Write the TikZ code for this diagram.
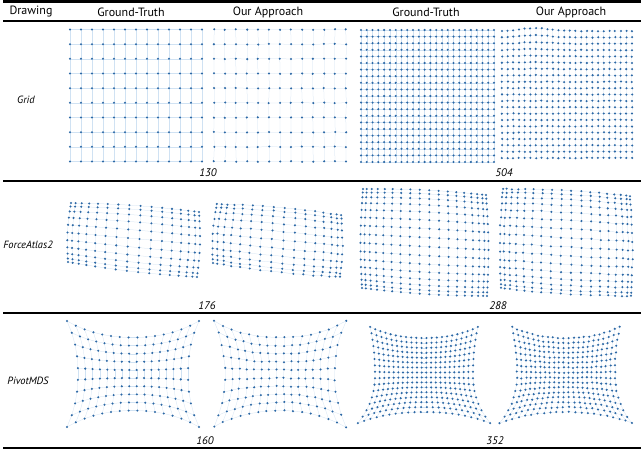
\documentclass[tikz,border=0pt]{standalone}
\usepackage{fontspec}
\setmainfont{PT Sans}
\definecolor{dotc}{RGB}{44,104,165}
\definecolor{edgec}{RGB}{208,226,243}
\tikzset{
  edge/.style={draw=edgec,line width=0.25pt},
  dotn/.style={fill=dotc},
  rule/.style={line width=2pt,black},
  head/.style={font=\fontsize{12}{14}\selectfont,inner sep=0pt},
  rowlab/.style={font=\fontsize{10.5}{12}\selectfont\itshape,inner sep=0pt},
  numlab/.style={font=\fontsize{11}{13}\selectfont\itshape,inner sep=0pt}
}
% regular grid coordinates with optional noise and a top bump
\newcommand\mkgrid[9]{% name, N-1, M-1, x0, width, y0, height, noise, bump
  \foreach \i in {0,...,#2}{\foreach \j in {0,...,#3}{
    \pgfmathsetmacro\px{#4+#5*\i/#2+#8*rand}
    \pgfmathsetmacro\py{#6+#7*\j/#3+#8*rand-#9*exp(-((\i/#2-0.25)/0.15)^2)*(1-\j/#3)^6}
    \coordinate (#1-\i-\j) at (\px,\py);
  }}}
% ForceAtlas2-like: warped quadrilateral
\newcommand\mkfa[4]{% name, N-1, M-1, noise
  \foreach \i in {0,...,#2}{\foreach \j in {0,...,#3}{
    \pgfmathsetmacro\su{0.45*\i/#2+0.55*(0.5-0.5*cos(180*\i/#2))}
    \pgfmathsetmacro\sv{0.45*\j/#3+0.55*(0.5-0.5*cos(180*\j/#3))}
    \pgfmathsetmacro\px{(1-\sv)*((1-\su)*\TLx+\su*\TRx)+\sv*((1-\su)*\BLx+\su*\BRx)-2*(1-2*\su)*sin(180*\sv)+#4*rand}
    \pgfmathsetmacro\py{(1-\sv)*((1-\su)*\TLy+\su*\TRy)+\sv*((1-\su)*\BLy+\su*\BRy)-2*(1-2*\sv)*sin(180*\su)+#4*rand}
    \coordinate (#1-\i-\j) at (\px,\py);
  }}}
% PivotMDS-like: pincushion
\newcommand\mkpm[4]{% name, N-1, M-1, noise
  \foreach \i in {0,...,#2}{\foreach \j in {0,...,#3}{
    \pgfmathsetmacro\uu{2*\i/#2-1}
    \pgfmathsetmacro\vv{2*\j/#3-1}
    \pgfmathsetmacro\px{\cx+\aa*\uu*(1+((\vv<0)*\kt+(\vv>=0)*\kb)*(\vv*\vv)*(0.7+0.3*abs(\vv)))+#4*rand}
    \pgfmathsetmacro\py{\cy+\bb*\vv*(1+\ky*(\uu*\uu)*(0.7+0.3*abs(\uu)))+#4*rand}
    \coordinate (#1-\i-\j) at (\px,\py);
  }}}
% edges and dots of a grid graph
\newcommand\drawgraph[3]{% name, N-1, M-1
  \foreach \i in {0,...,#2}{\foreach \j in {0,...,#3}{
    \pgfmathtruncatemacro\ni{\i+1}
    \pgfmathtruncatemacro\nj{\j+1}
    \ifnum\i<#2\relax \draw[edge] (#1-\i-\j) -- (#1-\ni-\j);\fi
    \ifnum\j<#3\relax \draw[edge] (#1-\i-\j) -- (#1-\i-\nj);\fi
  }}
  \foreach \i in {0,...,#2}{\foreach \j in {0,...,#3}{
    \fill[dotn] (#1-\i-\j) circle[radius=1.15];
  }}}
\begin{document}
\begin{tikzpicture}[x=1pt,y=-1pt]
\useasboundingbox[fill=white] (0,0) rectangle (641,450);
\pgfmathsetseed{1234}
% ---- rules
\coordinate (r0a) at (3,1.3); \coordinate (r0b) at (641,1.3);
\coordinate (r1a) at (3,21); \coordinate (r1b) at (641,21);
\coordinate (r2a) at (3,181); \coordinate (r2b) at (641,181);
\coordinate (r3a) at (3,313); \coordinate (r3b) at (641,313);
\coordinate (r4a) at (3,448); \coordinate (r4b) at (641,448);
\draw[rule,line width=2.6pt] (r0a) -- (r0b);
\draw[rule] (r1a) -- (r1b);
\draw[rule] (r2a) -- (r2b);
\draw[rule] (r3a) -- (r3b);
\draw[rule,line width=2.4pt] (r4a) -- (r4b);
% ---- header
\node[head] (hd) at (31,12) {Drawing};
\node[head] (h1) at (131,12) {Ground-Truth};
\node[head] (h2) at (268,12) {Our Approach};
\node[head] (h3) at (426,12) {Ground-Truth};
\node[head] (h4) at (571,12) {Our Approach};
% ---- row labels
\node[rowlab] (lg) at (26,100) {Grid};
\node[rowlab] (lf) at (28,245) {ForceAtlas2};
\node[rowlab] (lp) at (28,381) {PivotMDS};
% ---- numbers
\node[numlab] (n1) at (208,173) {130};
\node[numlab] (n2) at (504,173) {504};
\node[numlab] (n3) at (207,306) {176};
\node[numlab] (n4) at (498,306) {288};
\node[numlab] (n5) at (205,441) {160};
\node[numlab] (n6) at (495,441) {352};
% ---- Grid row
\mkgrid{ga}{12}{9}{70}{132}{29.5}{132}{0}{0}
\drawgraph{ga}{12}{9}
\mkgrid{gb}{12}{9}{214}{132}{29.5}{132}{0.35}{0}
\drawgraph{gb}{12}{9}
\mkgrid{gc}{23}{20}{361}{133}{30}{132}{0}{0}
\drawgraph{gc}{23}{20}
\mkgrid{gd}{23}{20}{502}{130}{31}{127}{0.3}{3}
\drawgraph{gd}{23}{20}
% ---- ForceAtlas2 row
\def\TLx{71}\def\TLy{203}\def\TRx{199}\def\TRy{212}\def\BLx{68}\def\BLy{262}\def\BRx{197}\def\BRy{277}
\mkfa{fa}{15}{10}{0}
\drawgraph{fa}{15}{10}
\def\TLx{217}\def\TLy{204}\def\TRx{341}\def\TRy{215}\def\BLx{213}\def\BLy{263}\def\BRx{340}\def\BRy{277}
\mkfa{fb}{15}{10}{0.4}
\drawgraph{fb}{15}{10}
\def\TLx{363}\def\TLy{189}\def\TRx{486}\def\TRy{195}\def\BLx{362}\def\BLy{288}\def\BRx{487}\def\BRy{296}
\mkfa{fc}{17}{15}{0}
\drawgraph{fc}{17}{15}
\def\TLx{503}\def\TLy{189}\def\TRx{630}\def\TRy{196}\def\BLx{501}\def\BLy{288}\def\BRx{631}\def\BRy{296}
\mkfa{fd}{17}{15}{0.4}
\drawgraph{fd}{17}{15}
% ---- PivotMDS row
\def\cx{133}\def\cy{374}\def\aa{55}\def\bb{36.5}\def\kt{0.2}\def\kb{0.2}\def\ky{0.45}
\mkpm{pa}{15}{9}{0}
\drawgraph{pa}{15}{9}
\def\cx{280}
\mkpm{pb}{15}{9}{0.5}
\drawgraph{pb}{15}{9}
\def\cx{424}\def\cy{375}\def\aa{49}\def\bb{37}\def\kt{0.1}\def\kb{0.35}\def\ky{0.3}
\mkpm{pc}{21}{15}{0}
\drawgraph{pc}{21}{15}
\def\cx{566}
\mkpm{pd}{21}{15}{0.4}
\drawgraph{pd}{21}{15}
\end{tikzpicture}
\end{document}
